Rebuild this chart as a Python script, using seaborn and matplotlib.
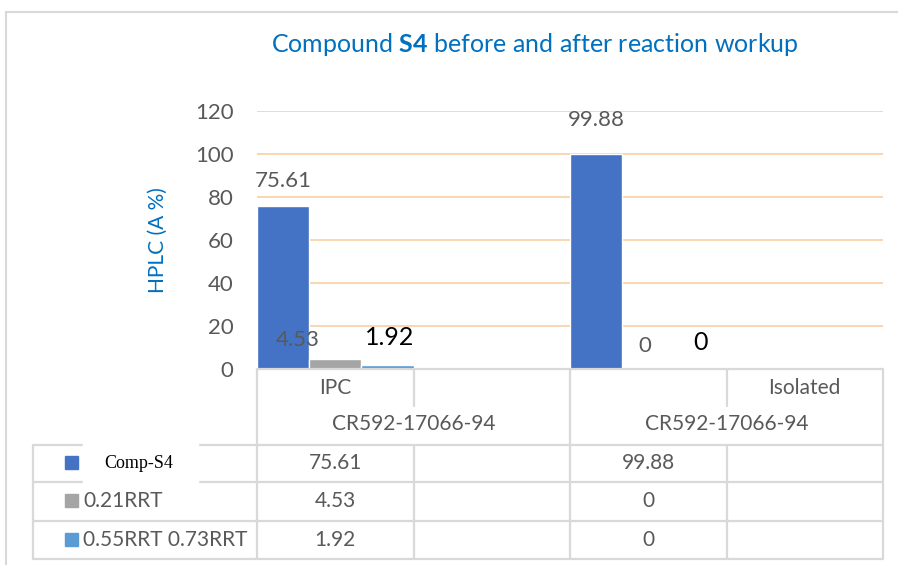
import numpy as np
import pandas as pd
import matplotlib.pyplot as plt
import seaborn as sns
from matplotlib.patches import Rectangle
from matplotlib.lines import Line2D
from matplotlib.transforms import blended_transform_factory

# chart data
sample_labels = ["IPC", "", "", "Isolated"]
batch_labels = ["CR592-17066-94", "CR592-17066-94"]
series_names = ["Comp-S4", "0.21RRT", "0.55RRT 0.73RRT"]
comp_s4 = [75.61, np.nan, 99.88, np.nan]
rrt_021 = [4.53, np.nan, 0, np.nan]
rrt_055 = [1.92, np.nan, 0, np.nan]
y_ticks = [0, 20, 40, 60, 80, 100, 120]

colors = ["#4472C4", "#A5A5A5", "#5B9BD5"]
grey_txt = "#595959"
blue_txt = "#0070C0"
line_c = "#D9D9D9"

W, H = 898, 565

def fx(px):
    return px / W

def fy(py):
    return 1 - py / H

sns.set_style("white")
plt.rcParams["font.family"] = ["Lato", "DejaVu Sans"]
plt.rcParams["mathtext.fontset"] = "custom"
plt.rcParams["mathtext.rm"] = "Lato"
plt.rcParams["mathtext.bf"] = "Lato:bold"

keys = ["c%d" % i for i in range(len(sample_labels))]
values = [comp_s4, rrt_021, rrt_055]
df = pd.DataFrame({
    "key": keys * len(series_names),
    "series": np.repeat(series_names, len(keys)),
    "value": np.concatenate(values),
})

fig = plt.figure(figsize=(W / 100, H / 100), dpi=100)
ax = fig.add_axes([fx(257), fy(369), fx(883) - fx(257), fy(111) - fy(369)])

sns.barplot(data=df, x="key", y="value", hue="series", order=keys,
            hue_order=series_names, palette=colors, width=1, dodge=True,
            errorbar=None, legend=False, saturation=1, ax=ax, zorder=3)

ax.set_xlim(-0.5, len(keys) - 0.5)
ax.set_ylim(0, 120)
ax.set_yticks(y_ticks)
ax.tick_params(axis="y", length=0, pad=17, labelsize=16, labelcolor=grey_txt)
ax.set_xticks([])
ax.set_xlabel("")
ax.set_ylabel("HPLC (A %)", color=blue_txt, fontsize=15)
ax.yaxis.set_label_coords((168 - 257) / 626, 0.5)
ax.grid(axis="y", color="#F9CB9C", lw=1.1, zorder=0)
ax.set_axisbelow(True)
for s in ax.spines.values():
    s.set_visible(False)

# data labels (hand placed, like the original)
label_style = {
    ("Comp-S4", "c0"): ((0, 25), grey_txt, 16),
    ("Comp-S4", "c2"): ((0, 34), grey_txt, 16),
    ("0.21RRT", "c0"): ((-38, 19), grey_txt, 16),
    ("0.21RRT", "c2"): ((-3, 23), grey_txt, 16),
    ("0.55RRT 0.73RRT", "c0"): ((2, 27), "black", 18),
    ("0.55RRT 0.73RRT", "c2"): ((0, 27), "black", 18),
}
for name, cont, vals in zip(series_names, ax.containers, values):
    present = [k for k, v in zip(keys, vals) if not np.isnan(v)]
    for k, bar in zip(present, cont):
        v = vals[keys.index(k)]
        off, col, sz = label_style[(name, k)]
        ax.annotate("%g" % v, (bar.get_x() + bar.get_width() / 2, bar.get_height()),
                    xytext=(off[0] / 1.389, off[1] / 1.389), textcoords="offset points",
                    ha="center", va="center", color=col, fontsize=sz, zorder=5)

# title
fig.text(fx(535), fy(45), r"Compound $\mathbf{S4}$ before and after reaction workup",
         ha="center", va="center", color=blue_txt, fontsize=18)

# data table under the axis
bt = blended_transform_factory(ax.transData, ax.transAxes)
def ay(py):
    return (369 - py) / 258.0

def hline(x0px, x1px, ypx):
    fig.add_artist(Line2D([fx(x0px), fx(x1px)], [fy(ypx), fy(ypx)], color=line_c, lw=1.6))

hline(257, 883, 369)
for ypx in [445, 482, 521, 559]:
    hline(33, 883, ypx)
fig.add_artist(Line2D([fx(33), fx(33)], [fy(445), fy(559)], color=line_c, lw=1.6))

n = len(keys)
for i in range(n + 1):
    xb = i - 0.5
    if i % 2 == 0:
        ax.plot([xb, xb], [ay(369), ay(559)], transform=bt, color=line_c, lw=1.6, clip_on=False)
    else:
        ax.plot([xb, xb], [ay(369), ay(406)], transform=bt, color=line_c, lw=1.6, clip_on=False)
        ax.plot([xb, xb], [ay(445), ay(559)], transform=bt, color=line_c, lw=1.6, clip_on=False)

for i, lab in enumerate(sample_labels):
    ax.text(i, ay(388), lab, transform=bt, ha="center", va="center",
            color=grey_txt, fontsize=15)
for j, lab in enumerate(batch_labels):
    ax.text(2 * j + 0.5, ay(424), lab, transform=bt, ha="center", va="center",
            color=grey_txt, fontsize=15)

row_y = [463, 501, 540]
for vals, ry in zip(values, row_y):
    for i, v in enumerate(vals):
        if not np.isnan(v):
            ax.text(i, ay(ry), "%g" % v, transform=bt, ha="center", va="center",
                    color=grey_txt, fontsize=15)

# legend keys in the table
for col, ry in zip(colors, row_y):
    fig.add_artist(Rectangle((fx(65), fy(ry + 6)), fx(13), 13 / H, color=col))
fig.add_artist(Rectangle((fx(83), fy(483)), fx(115), 40 / H, color="white", zorder=4))
fig.text(fx(139), fy(463), series_names[0], ha="center", va="center", fontsize=13,
         family="Liberation Serif", color="black", zorder=5)
fig.text(fx(83), fy(501), series_names[1], ha="left", va="center", fontsize=15, color=grey_txt)
fig.text(fx(83), fy(540), series_names[2], ha="left", va="center", fontsize=15, color=grey_txt)

# chart area border
fig.add_artist(Line2D([fx(6), fx(6)], [fy(12), 0], color=line_c, lw=1.5))
fig.add_artist(Line2D([fx(6), 1], [fy(12), fy(12)], color=line_c, lw=1.5))

fig.savefig("out.png", dpi=100)
